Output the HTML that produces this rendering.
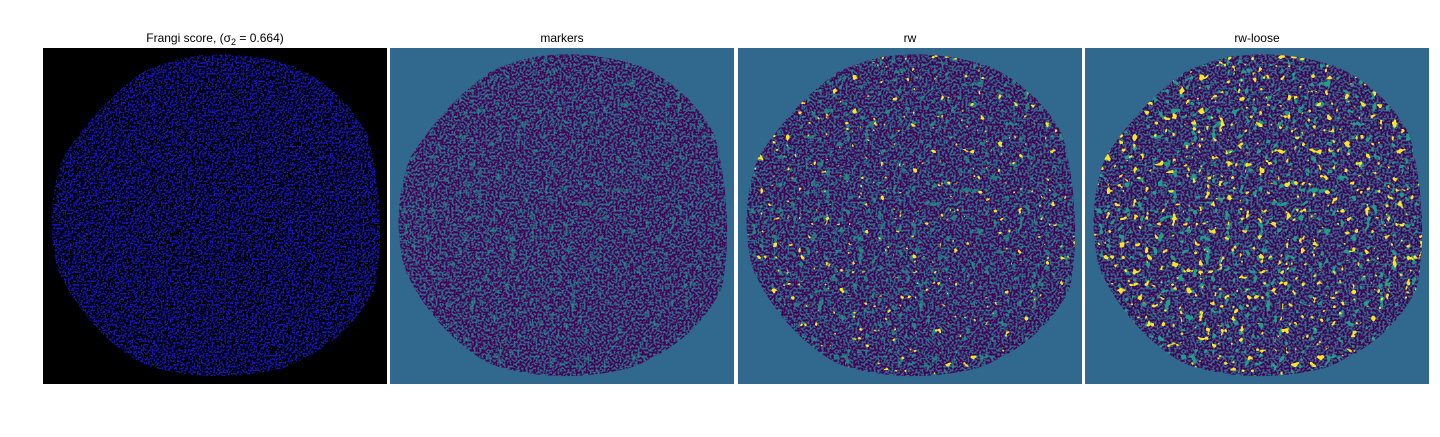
<!DOCTYPE html>
<html><head><meta charset="utf-8"><style>
body{margin:0;background:#fff;width:1440px;height:432px;overflow:hidden;font-family:"Liberation Sans","DejaVu Sans",sans-serif}
</style></head><body>
<svg width="1440" height="432" xmlns="http://www.w3.org/2000/svg" style="color-interpolation-filters:sRGB">
<defs>
<path id="blob" d="M150,8 Q200,2 250,18 Q300,40 325,88 Q345,170 332,240 Q305,295 240,320 Q165,338 100,316 Q45,285 15,222 Q0,165 20,110 Q55,55 100,24 Q125,12 150,8Z"/>
<clipPath id="cb"><use href="#blob"/></clipPath>
<filter id="nBlue" x="0" y="0" width="100%" height="100%" color-interpolation-filters="sRGB">
<feTurbulence type="fractalNoise" baseFrequency="0.55" numOctaves="1" seed="2"/>
<feColorMatrix type="matrix" values="0 0 0 0 0.08 0 0 0 0 0.08 0 0 0 0 0.72 30 0 0 0 -15.3"/>
</filter>
<filter id="nPurple" x="0" y="0" width="100%" height="100%" color-interpolation-filters="sRGB">
<feTurbulence type="fractalNoise" baseFrequency="0.5" numOctaves="1" seed="5"/>
<feColorMatrix type="matrix" values="0 0 0 0 0.267 0 0 0 0 0.004 0 0 0 0 0.33 30 0 0 0 -14.1"/>
</filter>
<filter id="nGreen" x="0" y="0" width="100%" height="100%" color-interpolation-filters="sRGB">
<feTurbulence type="fractalNoise" baseFrequency="0.15" numOctaves="2" seed="9"/>
<feColorMatrix type="matrix" values="0 0 0 0 0.13 0 0 0 0 0.62 0 0 0 0 0.54 30 0 0 0 -19.5"/>
</filter>
<filter id="nYellow" x="0" y="0" width="100%" height="100%" color-interpolation-filters="sRGB">
<feTurbulence type="fractalNoise" baseFrequency="0.15" numOctaves="2" seed="13"/>
<feColorMatrix type="matrix" values="0 0 0 0 0.99 0 0 0 0 0.9 0 0 0 0 0.14 30 0 0 0 -20.4"/>
</filter>
<filter id="nYellow2" x="0" y="0" width="100%" height="100%" color-interpolation-filters="sRGB">
<feTurbulence type="fractalNoise" baseFrequency="0.15" numOctaves="2" seed="13"/>
<feColorMatrix type="matrix" values="0 0 0 0 0.99 0 0 0 0 0.9 0 0 0 0 0.14 30 0 0 0 -21.9"/>
</filter>
</defs>

<g transform="translate(43,48)">
<rect width="344" height="336" fill="#000"/>
<g clip-path="url(#cb)"><rect width="344" height="336" filter="url(#nBlue)"/></g>
</g>
<text x="215" y="42" text-anchor="middle" font-size="12">Frangi score, (σ<tspan font-size="9" dy="3">2</tspan><tspan dy="-3"> = 0.664)</tspan></text>

<g transform="translate(390,48)">
<rect width="344" height="336" fill="#31688e"/>
<g clip-path="url(#cb)"><rect width="344" height="336" filter="url(#nPurple)"/><rect width="344" height="336" filter="url(#nGreen)" opacity="0.5"/></g>
</g>
<text x="562" y="42" text-anchor="middle" font-size="12">markers</text>

<g transform="translate(738,48)">
<rect width="344" height="336" fill="#31688e"/>
<g clip-path="url(#cb)"><rect width="344" height="336" filter="url(#nPurple)"/><rect width="344" height="336" filter="url(#nGreen)" opacity="0.7"/><rect width="344" height="336" filter="url(#nYellow2)"/></g>
</g>
<text x="910" y="42" text-anchor="middle" font-size="12">rw</text>

<g transform="translate(1085,48)">
<rect width="344" height="336" fill="#31688e"/>
<g clip-path="url(#cb)"><rect width="344" height="336" filter="url(#nPurple)"/><rect width="344" height="336" filter="url(#nGreen)"/><rect width="344" height="336" filter="url(#nYellow)"/></g>
</g>
<text x="1257" y="42" text-anchor="middle" font-size="12">rw-loose</text>
</svg>
</body></html>
